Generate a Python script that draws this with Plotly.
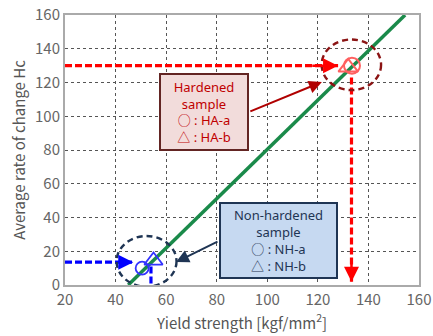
import plotly.graph_objects as go

# ---- data ----
x_ticks = [20, 40, 60, 80, 100, 120, 140, 160]
y_ticks = [0, 20, 40, 60, 80, 100, 120, 140, 160]

fit_x = [45, 154.5]
fit_y = [0, 160]

ha_a = (133.5, 130)   # hardened, circle
ha_b = (132.0, 129)   # hardened, triangle
nh_a = (50.5, 10)     # non-hardened, circle
nh_b = (55.0, 14.5)   # non-hardened, triangle

red_h = ([20, 128], [130, 130])
red_v = ([133.3, 133.3], [123, 2])
blue_h = ([20, 47], [13.5, 13.5])
blue_v = ([54, 54], [11, 0])

ha_ellipse = [121.5, 115.5, 145.0, 145.5]
nh_ellipse = [40.4, -1.0, 64.1, 29.0]

ha_box = (75.0, 102.5)
nh_box = (104.4, 26.2)
ha_pointer = (92.7, 102.5, 121.6, 120.3)
nh_pointer = (80.9, 26.1, 63.9, 13.6)

ha_lines = ["Hardened", "sample", "○ : HA-a", "△ : HA-b"]
nh_lines = ["Non-hardened", "sample", "○ : NH-a", "△ : NH-b"]

RED = "#ff0000"
BLUE = "#0000ff"
GREEN = "#1a8a4a"
DRED = "#8b1414"
NAVY = "#1f3554"
FONT = "Noto Sans"
CJK = "Noto Sans CJK JP"


def box_text(lines):
    out = []
    for ln in lines:
        if ln[0] in "○△":
            ln = f'<span style="font-family:\'{CJK}\'">{ln[0]}</span>{ln[1:]}'
        out.append(ln)
    return "<br>".join(out)


fig = go.Figure()

fig.add_trace(go.Scatter(x=fit_x, y=fit_y, mode="lines",
                         line=dict(color=GREEN, width=3.5), showlegend=False))

for xs, ys, col in [(red_h[0], red_h[1], RED), (red_v[0], red_v[1], RED),
                    (blue_h[0], blue_h[1], BLUE), (blue_v[0], blue_v[1], BLUE)]:
    fig.add_trace(go.Scatter(x=xs, y=ys, mode="lines",
                             line=dict(color=col, width=3.2, dash="7px,3px"),
                             showlegend=False))
    fig.add_annotation(x=xs[1], y=ys[1], ax=xs[0] + (xs[1] - xs[0]) * 0.9,
                       ay=ys[0] + (ys[1] - ys[0]) * 0.9,
                       xref="x", yref="y", axref="x", ayref="y",
                       showarrow=True, arrowhead=2, arrowsize=1.2,
                       arrowwidth=2.5, arrowcolor=col, text="", standoff=0)

fig.add_trace(go.Scatter(x=[ha_a[0]], y=[ha_a[1]], mode="markers",
                         marker=dict(symbol="circle-open", size=16,
                                     color="#ff6060", line=dict(width=2)),
                         showlegend=False))
fig.add_trace(go.Scatter(x=[ha_b[0]], y=[ha_b[1]], mode="markers",
                         marker=dict(symbol="triangle-up-open", size=17,
                                     color="#ff6060", line=dict(width=2)),
                         showlegend=False))
fig.add_trace(go.Scatter(x=[nh_a[0]], y=[nh_a[1]], mode="markers",
                         marker=dict(symbol="circle-open", size=13,
                                     color="#3333ff", line=dict(width=1.8)),
                         showlegend=False))
fig.add_trace(go.Scatter(x=[nh_b[0]], y=[nh_b[1]], mode="markers",
                         marker=dict(symbol="triangle-up-open", size=16,
                                     color="#3333ff", line=dict(width=1.8)),
                         showlegend=False))

fig.add_shape(type="circle", xref="x", yref="y",
              x0=ha_ellipse[0], y0=ha_ellipse[1], x1=ha_ellipse[2], y1=ha_ellipse[3],
              line=dict(color=DRED, width=2.4, dash="6px,4px"))
fig.add_shape(type="circle", xref="x", yref="y",
              x0=nh_ellipse[0], y0=nh_ellipse[1], x1=nh_ellipse[2], y1=nh_ellipse[3],
              line=dict(color=NAVY, width=2.4, dash="6px,4px"))

fig.add_annotation(x=ha_pointer[2], y=ha_pointer[3], ax=ha_pointer[0], ay=ha_pointer[1],
                   xref="x", yref="y", axref="x", ayref="y", text="",
                   showarrow=True, arrowhead=2, arrowsize=1.3, arrowwidth=2,
                   arrowcolor="#b00000", standoff=0)
fig.add_annotation(x=nh_pointer[2], y=nh_pointer[3], ax=nh_pointer[0], ay=nh_pointer[1],
                   xref="x", yref="y", axref="x", ayref="y", text="",
                   showarrow=True, arrowhead=2, arrowsize=1.3, arrowwidth=2,
                   arrowcolor=NAVY, standoff=0)

fig.add_annotation(x=ha_box[0], y=ha_box[1], xref="x", yref="y", showarrow=False,
                   text=box_text(ha_lines),
                   font=dict(family=FONT, size=13, color="#c00000"),
                   bgcolor="#f2dcdb", bordercolor="#632523", borderwidth=2,
                   width=84, height=72, align="center")
fig.add_annotation(x=nh_box[0], y=nh_box[1], xref="x", yref="y", showarrow=False,
                   text=box_text(nh_lines),
                   font=dict(family=FONT, size=13, color=NAVY),
                   bgcolor="#c6d9f1", bordercolor=NAVY, borderwidth=2,
                   width=113, height=71, align="center")

axis_common = dict(showline=True, mirror=True, linecolor="#aaaaaa", linewidth=2,
                   showgrid=True, gridcolor="#555555", gridwidth=1, griddash="dot",
                   zeroline=False, ticks="", automargin=False,
                   tickfont=dict(family=CJK, size=15, color="#666666"))

fig.update_xaxes(range=[20, 160], tickvals=x_ticks, **axis_common,
                 title=dict(text="Yield strength [kgf/mm<sup>2</sup>]",
                            font=dict(family=CJK, size=15, color="#555555"), standoff=10))
fig.update_yaxes(range=[0, 160], tickvals=y_ticks, **axis_common,
                 title=dict(text="Average rate of change Hc",
                            font=dict(family=CJK, size=15, color="#555555"), standoff=6))

fig.update_layout(width=433, height=336, margin=dict(l=65, r=14, t=15, b=51),
                  plot_bgcolor="white", paper_bgcolor="white")

fig.write_html("out.html")
